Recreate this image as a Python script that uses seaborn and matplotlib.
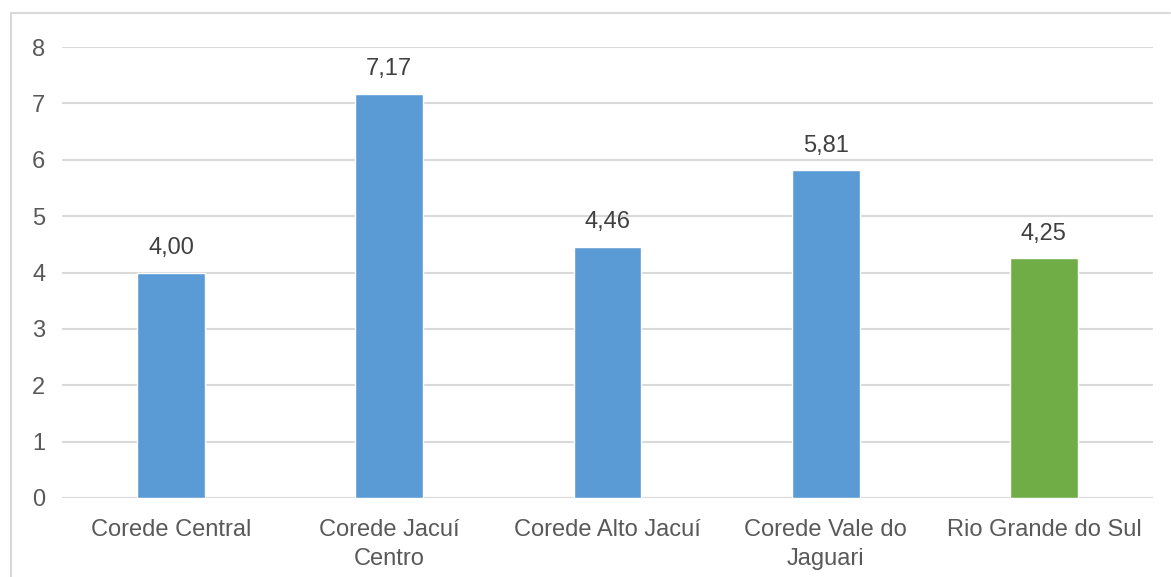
import matplotlib
matplotlib.use("Agg")
import matplotlib.pyplot as plt
from matplotlib.lines import Line2D
import seaborn as sns
import pandas as pd

categories = ["Corede Central", "Corede Jacuí\nCentro", "Corede Alto Jacuí",
              "Corede Vale do\nJaguari", "Rio Grande do Sul"]
values = [4.00, 7.17, 4.46, 5.81, 4.25]
colors = ["#5B9BD5", "#5B9BD5", "#5B9BD5", "#5B9BD5", "#70AD47"]
yticks = [0, 1, 2, 3, 4, 5, 6, 7, 8]

sns.set_theme(style="white")
plt.rcParams["font.family"] = ["Liberation Sans", "DejaVu Sans"]

df = pd.DataFrame({"regiao": categories, "valor": values})

W, H = 1171, 577
fig = plt.figure(figsize=(W / 100, H / 100), dpi=100)
fig.patch.set_facecolor("white")
ax = fig.add_axes([62 / W, 1 - 498 / H, (1153 - 62) / W, (498 - 47) / H])

sns.barplot(data=df, x="regiao", y="valor", hue="regiao", palette=colors,
            legend=False, width=0.31, saturation=1, ax=ax, zorder=3)

FS = 17
ax.set_ylim(0, 8)
ax.set_xlim(-0.5, len(categories) - 0.5)
ax.set_yticks(yticks)
ax.set_yticklabels([str(t) for t in yticks])
ax.set_xlabel("")
ax.set_ylabel("")
ax.grid(axis="y", color="#D9D9D9", linewidth=1.5, zorder=0)
ax.grid(axis="x", visible=False)
for s in ax.spines.values():
    s.set_visible(False)
ax.tick_params(axis="both", length=0, labelsize=FS, colors="#595959")
ax.tick_params(axis="y", pad=12)
ax.tick_params(axis="x", pad=15)
for lbl in ax.get_xticklabels():
    lbl.set_linespacing(1.45)

for container in ax.containers:
    ax.bar_label(container,
                 labels=[f"{v:.2f}".replace(".", ",") for v in container.datavalues],
                 padding=10, fontsize=FS, color="#404040")

# outer chart frame (top and left edges)
fig.add_artist(Line2D([10.5 / W, 10.5 / W], [0, 1 - 13 / H], transform=fig.transFigure,
                      color="#D9D9D9", linewidth=1.5))
fig.add_artist(Line2D([10.5 / W, 1170 / W], [1 - 13 / H, 1 - 13 / H], transform=fig.transFigure,
                      color="#D9D9D9", linewidth=1.5))

fig.savefig("out.png", dpi=100, facecolor="white")
